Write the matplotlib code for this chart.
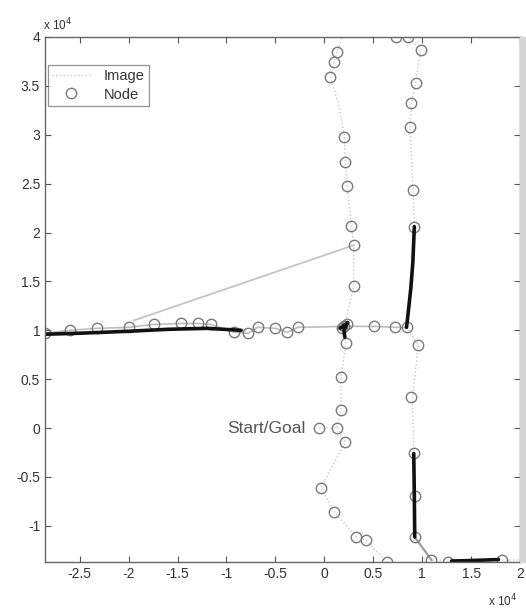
import numpy as np
import matplotlib
matplotlib.use("Agg")
import matplotlib.pyplot as plt
from matplotlib.patches import Rectangle
from matplotlib.ticker import FuncFormatter

plt.rcParams['font.family'] = ['Liberation Sans', 'DejaVu Sans']

# Image poses along the trajectory (units of 10^4); NaN separates pieces
img_x = [-0.05, 0.13, 0.17, 0.17, 0.22, 0.205, 0.30, 0.30, 0.277, 0.233, 0.215, 0.205,
         0.15, 0.06, 0.10, 0.13, 0.20, np.nan,
         0.73, 0.86, 0.985, 0.934, 0.89, 0.876, 0.907, 0.92, 0.885, 0.84, 0.96, 0.90,
         0.914, 0.93, 0.924, 1.095, 1.266, 1.82, 2.05, np.nan,
         0.66, 0.64, 0.43, 0.325, 0.10, -0.035, 0.215, 0.13]
img_y = [0.0, 0.0, 0.18, 0.52, 0.87, 1.04, 1.45, 1.87, 2.07, 2.48, 2.72, 2.98,
         3.30, 3.59, 3.74, 3.85, 4.05, np.nan,
         4.0, 4.0, 3.87, 3.53, 3.33, 3.08, 2.44, 2.06, 1.44, 1.03, 0.85, 0.29,
         -0.26, -0.70, -1.115, -1.35, -1.365, -1.35, -1.35, np.nan,
         -1.45, -1.37, -1.15, -1.11, -0.855, -0.61, -0.14, 0.0]

# Corridor links between image poses
band_x = [-2.85, -2.6, -2.32, -2.0, -1.745, -1.47, -1.29, -1.16, -0.92, -0.78, -0.68,
          -0.50, -0.38, -0.27, 0.205, 0.51, 0.72, 0.84]
band_y = [0.97, 1.0, 1.02, 1.03, 1.06, 1.07, 1.07, 1.06, 0.98, 0.97, 1.03,
          1.02, 0.98, 1.03, 1.04, 1.04, 1.03, 1.03]
diag_x = [-1.95, 0.30]
diag_y = [1.10, 1.87]

# Node positions
node_x = [0.13, 0.10, 0.06, 0.205, 0.215, 0.233, 0.277, 0.30, 0.30, 0.205, 0.22, 0.17,
          0.17, -0.05, 0.13, 0.215, -0.035, 0.10, 0.325, 0.43, 0.64,
          0.73, 0.86, 0.985, 0.934, 0.89, 0.876, 0.907, 0.92, 0.84, 0.72, 0.51, 0.96,
          0.89, 0.914, 0.93, 0.924, 1.095, 1.266, 1.82,
          -2.85, -2.6, -2.32, -2.0, -1.745, -1.47, -1.29, -1.16, -0.92, -0.78, -0.68,
          -0.50, -0.38, -0.27, 0.18, 0.23]
node_y = [3.85, 3.74, 3.59, 2.98, 2.72, 2.48, 2.07, 1.87, 1.45, 1.04, 0.87, 0.52,
          0.18, 0.0, 0.0, -0.14, -0.61, -0.855, -1.11, -1.15, -1.37,
          4.0, 4.0, 3.87, 3.53, 3.33, 3.08, 2.44, 2.06, 1.03, 1.03, 1.04, 0.85,
          0.32, -0.26, -0.70, -1.115, -1.35, -1.365, -1.35,
          0.97, 1.0, 1.02, 1.03, 1.06, 1.07, 1.07, 1.06, 0.98, 0.97, 1.03,
          1.02, 0.98, 1.03, 1.02, 1.06]

# Strongly matched edges (drawn heavy)
edges = [
    ([-2.85, -2.5, -2.0, -1.6, -1.2, -0.85], [0.96, 0.97, 0.99, 1.01, 1.02, 1.0]),
    ([0.92, 0.905, 0.885, 0.865, 0.84], [2.06, 1.70, 1.44, 1.25, 1.03]),
    ([0.914, 0.92, 0.924], [-0.26, -0.70, -1.115]),
    ([1.30, 1.50, 1.78], [-1.36, -1.355, -1.345]),
    ([0.16, 0.24, 0.20, 0.21], [1.02, 1.08, 1.0, 0.93]),
]

xticks = [-2.5, -2, -1.5, -1, -0.5, 0, 0.5, 1, 1.5, 2]
yticks = [-1, -0.5, 0, 0.5, 1, 1.5, 2, 2.5, 3, 3.5, 4]

fig = plt.figure(figsize=(5.26, 6.10), dpi=100)
ax = fig.add_axes([45 / 526, 48 / 610, 475 / 526, 525 / 610])

line_img, = ax.plot(img_x, img_y, color='#c8c8c8', lw=1.0, ls=':', label='Image')
ax.plot(band_x, band_y, color='#bdbdbd', lw=1.2)
ax.plot(diag_x, diag_y, color='#c4c4c4', lw=1.3)
ax.plot([0.924, 1.095], [-1.115, -1.35], color='#999999', lw=1.5)
nodes, = ax.plot(node_x, node_y, ls='none', marker='o', ms=7.5, mfc='none',
                 mec='#7a7a7a', mew=1.0, label='Node')
for ex, ey in edges:
    ax.plot(ex, ey, color='#111111', lw=2.6, solid_capstyle='round')

ax.text(-0.19, 0.0, 'Start/Goal', ha='right', va='center', fontsize=12.5, color='#555555')

ax.set_xlim(-2.855, 2.0)
ax.set_ylim(-1.37, 4.0)
ax.set_xticks(xticks)
ax.set_yticks(yticks)
fmt = FuncFormatter(lambda v, p: ('%g' % v))
ax.xaxis.set_major_formatter(fmt)
ax.yaxis.set_major_formatter(fmt)
ax.tick_params(direction='in', length=4, width=0.8, colors='#555555', labelcolor='#333333',
               labelsize=10, top=True, right=True)
for s in ax.spines.values():
    s.set_color('#666666')
    s.set_linewidth(1.0)

leg = ax.legend(handles=[line_img, nodes], loc='upper left', bbox_to_anchor=(0.006, 0.947),
                fontsize=10.5, frameon=True, fancybox=False, edgecolor='#777777',
                handlelength=2.6, handletextpad=0.9, borderpad=0.3, labelspacing=0.3,
                borderaxespad=0.0)
leg.get_frame().set_linewidth(0.9)
for t in leg.get_texts():
    t.set_color('#333333')

fig.text(43 / 526, 1 - 25 / 610, 'x 10$^4$', fontsize=8.5, color='#333333', va='center')
fig.text(488 / 526, 1 - 601 / 610, 'x 10$^4$', fontsize=8.5, color='#333333', va='center')
fig.patches.append(Rectangle((520 / 526, 48 / 610), 6 / 526, 525 / 610,
                             transform=fig.transFigure, color='#d6d6d6', zorder=0))

fig.savefig('out.png', dpi=100)
